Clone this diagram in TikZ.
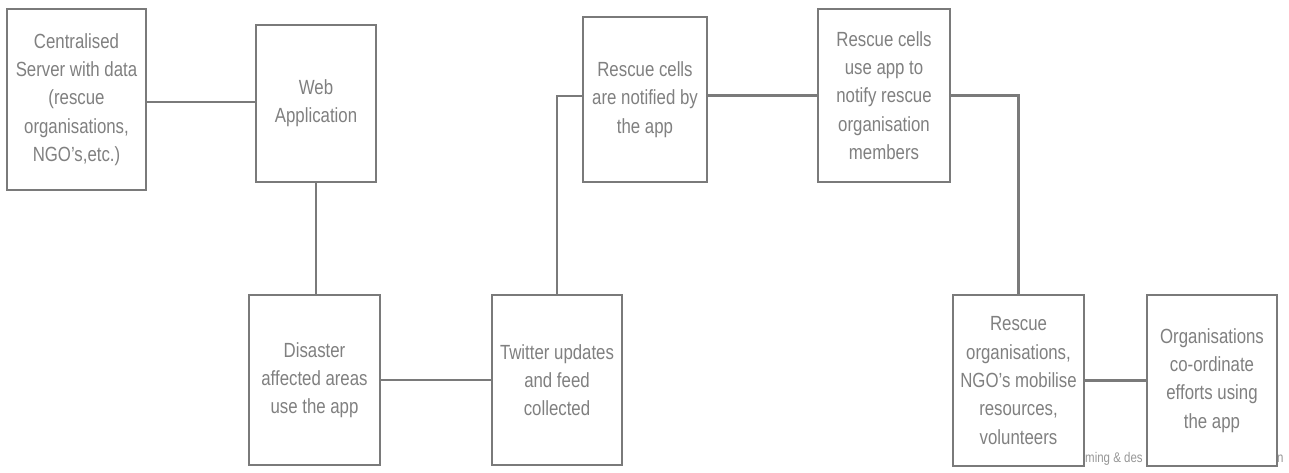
\documentclass[tikz,border=0pt]{standalone}
\usepackage{fontspec}
\setmainfont{Liberation Sans}[FakeStretch=0.82]
\definecolor{linegray}{RGB}{122,122,122}
\definecolor{textgray}{RGB}{128,128,128}
\definecolor{footgray}{RGB}{150,150,150}
\begin{document}
\begin{tikzpicture}[x=1pt,y=-1pt,
  stepbox/.style={draw=linegray, line width=2.4pt, fill=white, rectangle,
    inner sep=0pt, align=center, text=textgray,
    font=\fontsize{20.5}{28.3}\selectfont},
  link/.style={draw=linegray, line width=2.4pt},
  foottext/.style={text=footgray, inner sep=0pt, font=\fontsize{14}{16}\selectfont}]
\useasboundingbox (0,0) rectangle (1289,472);

% footer text partly hidden behind the last boxes
\node[foottext, anchor=base west] (ft1) at (1085,462) {ming \& des};
\node[foottext, anchor=base west] (ft2) at (1277,462) {n};

\node[stepbox, minimum width=139pt, minimum height=181pt] (server) at (76.5,99.5)
  {Centralised\\Server with data\\(rescue\\organisations,\\NGO's,etc.)};
\node[stepbox, minimum width=120pt, minimum height=157pt] (web) at (316,103.5)
  {Web\\Application};
\node[stepbox, minimum width=131pt, minimum height=170pt] (dis) at (314.5,380)
  {Disaster\\affected areas\\use the app};
\node[stepbox, minimum width=130pt, minimum height=170pt] (tw) at (557,380)
  {Twitter updates\\and feed\\collected};
\node[stepbox, minimum width=124pt, minimum height=165pt] (notif) at (645,99.5)
  {Rescue cells\\are notified by\\the app};
\node[stepbox, minimum width=132pt, minimum height=173pt] (useapp) at (884,95.5)
  {Rescue cells\\use app to\\notify rescue\\organisation\\members};
\node[stepbox, minimum width=131pt, minimum height=171pt] (orgs) at (1018.5,380.5)
  {Rescue\\organisations,\\NGO's mobilise\\resources,\\volunteers};
\node[stepbox, minimum width=130pt, minimum height=171pt] (coord) at (1212,380.5)
  {Organisations\\co-ordinate\\efforts using\\the app};

% connectors
\draw[link] ([yshift=1.5pt]web.west) -- ([yshift=1.5pt]web.west -| server.east);
\draw[link] (web.south) -- (web.south |- dis.north);
\draw[link] (dis.east) -- (tw.west);
\draw[link] (tw.north) |- ([yshift=3.5pt]notif.west);
\draw[link] (useapp.west) -- (useapp.west -| notif.east);
\draw[link] (useapp.east) -| (orgs.north);
\draw[link] (orgs.east) -- (orgs.east -| coord.west);
\end{tikzpicture}
\end{document}
